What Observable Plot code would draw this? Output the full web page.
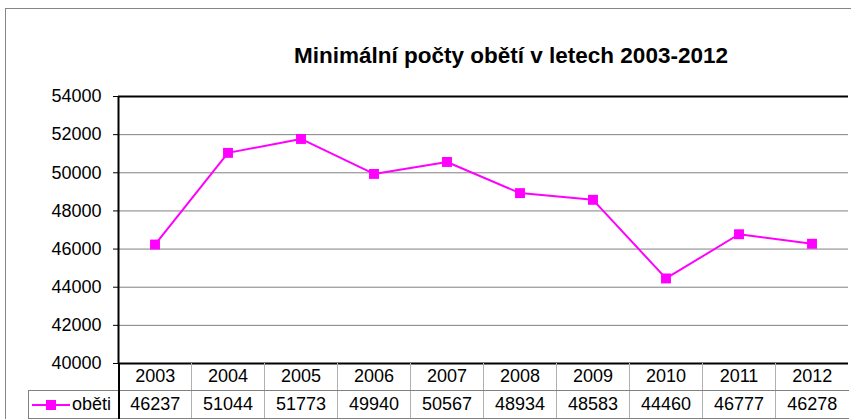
<!DOCTYPE html>
<html>
<head>
<meta charset="utf-8">
<script src="https://cdn.jsdelivr.net/npm/d3@7"></script>
<script src="https://cdn.jsdelivr.net/npm/@observablehq/plot@0.6"></script>
<style>
  html, body { margin: 0; padding: 0; width: 851px; height: 419px; overflow: hidden; background: #fff; }
  body { position: relative; font-family: "Liberation Sans", Arial, sans-serif; }
  #border { position: absolute; left: 5px; top: 8px; width: 950px; height: 500px; border: 1.5px solid #868686; box-sizing: border-box; }
  #title { position: absolute; left: 0; width: 1022px; top: 43px; text-align: center; font-weight: bold; font-size: 22.5px; line-height: 26px; color: #000; white-space: nowrap; }
  #chart { position: absolute; left: 0; top: 0; width: 870px; }
  #chart svg { max-width: none !important; }
  #table { position: absolute; left: 28px; top: 363px; border-collapse: collapse; font-size: 18px; color: #000; table-layout: fixed; }
  #table td { height: 27px; padding: 0; text-align: center; vertical-align: middle; box-sizing: border-box; line-height: 27px; }
  #table td.c { width: 73px; border-left: 1px solid #b0b0b0; border-bottom: 1px solid #808080; }
  #table tr.r1 td.c { border-bottom: 1px solid #808080; }
  #table td.first { border-left: 2px solid #000; }
  #table td.leg { width: 90px; border: 1px solid #808080; border-right: none; text-align: left; white-space: nowrap; }
  #table td.blank { width: 90px; border: none; }
</style>
</head>
<body>
<div id="border"></div>
<div id="title">Minimální počty obětí v letech 2003-2012</div>
<div id="chart"></div>
<table id="table"></table>
<script>
const years = ["2003","2004","2005","2006","2007","2008","2009","2010","2011","2012"];
const values = [46237, 51044, 51773, 49940, 50567, 48934, 48583, 44460, 46777, 46278];
const seriesName = "oběti";
const yTicks = [40000, 42000, 44000, 46000, 48000, 50000, 52000, 54000];
const color = "#ff00ff";

const data = years.map((y, i) => ({year: y, idx: i + 0.5, value: values[i]}));

const chart = Plot.plot({
  width: 870,
  height: 366,
  marginLeft: 118,
  marginRight: 22,
  marginTop: 96,
  marginBottom: 3,
  style: {fontFamily: "'Liberation Sans', Arial, sans-serif", fontSize: "18px", color: "#000", background: "transparent", overflow: "visible", maxWidth: "none"},
  x: {domain: [0, years.length], axis: null},
  y: {domain: [40000, 54000]},
  marks: [
    Plot.gridY(yTicks, {stroke: "#808080", strokeOpacity: 1, strokeWidth: 1}),
    Plot.axisY(yTicks, {tickFormat: d3.format("d"), tickSize: 5, tickPadding: 12, fontSize: 18, stroke: "#000", label: null}),
    Plot.ruleY([54000, 40000], {stroke: "#000", strokeWidth: 2}),
    Plot.ruleX([0], {stroke: "#000", strokeWidth: 2}),
    Plot.line(data, {x: "idx", y: "value", stroke: color, strokeWidth: 2}),
    Plot.dot(data, {x: "idx", y: "value", symbol: "square", r: 5.6, fill: color, stroke: "none"})
  ]
});
chart.style.maxWidth = "none";
document.getElementById("chart").appendChild(chart);

// data table below the plot
const table = document.getElementById("table");
const r1 = document.createElement("tr"); r1.className = "r1";
const r2 = document.createElement("tr");
const blank = document.createElement("td"); blank.className = "blank"; r1.appendChild(blank);
const leg = document.createElement("td"); leg.className = "leg";
leg.innerHTML = `<svg width="44" height="12" style="vertical-align:-1px;margin-left:3px"><line x1="0" y1="6" x2="38" y2="6" stroke="${color}" stroke-width="2"/><rect x="14" y="1" width="10" height="10" fill="${color}"/></svg><span style="margin-left:-4px">${seriesName}</span>`;
r2.appendChild(leg);
years.forEach((y, i) => {
  const a = document.createElement("td"); a.className = "c" + (i === 0 ? " first" : ""); a.textContent = y; r1.appendChild(a);
  const b = document.createElement("td"); b.className = "c" + (i === 0 ? " first" : ""); b.textContent = values[i]; r2.appendChild(b);
});
table.appendChild(r1); table.appendChild(r2);
</script>
</body>
</html>
